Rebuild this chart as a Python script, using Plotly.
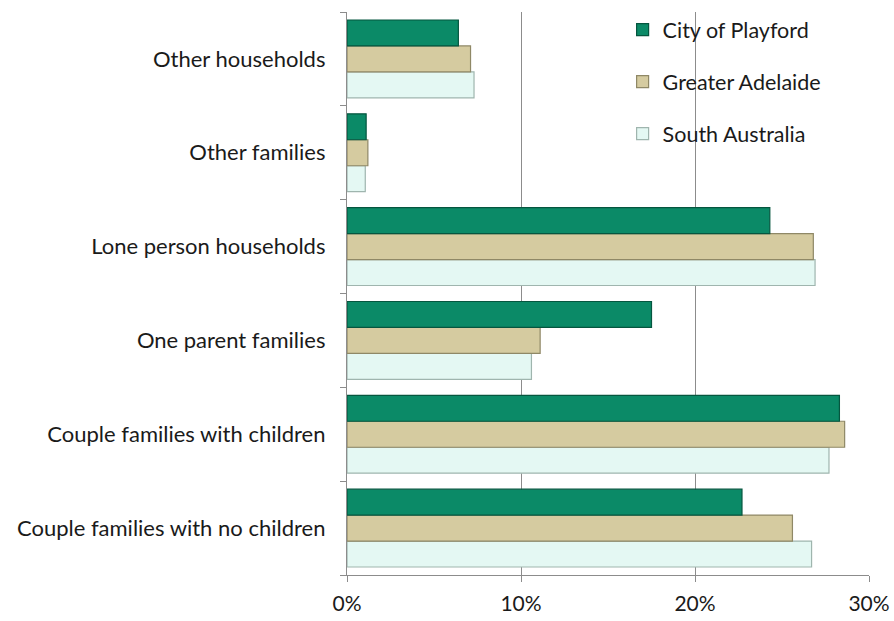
import plotly.graph_objects as go

categories = [
    "Couple families with no children",
    "Couple families with children",
    "One parent families",
    "Lone person households",
    "Other families",
    "Other households",
]
playford = [22.7, 28.3, 17.5, 24.3, 1.1, 6.4]
greater_adelaide = [25.6, 28.6, 11.1, 26.8, 1.2, 7.1]
south_australia = [26.7, 27.7, 10.6, 26.9, 1.05, 7.3]

x_ticks = [0, 10, 20, 30]
x_tick_labels = ["0%", "10%", "20%", "30%"]

# drawn bottom-to-top within each group; legend rank puts Playford first
series = [
    ("South Australia", south_australia, "#e4f8f3", "#9fb5ae", 3),
    ("Greater Adelaide", greater_adelaide, "#d5cba0", "#8f8866", 2),
    ("City of Playford", playford, "#0b8a67", "#05563f", 1),
]

fig = go.Figure()
for name, vals, fill, edge, rank in series:
    fig.add_trace(go.Bar(
        y=categories, x=vals, name=name, orientation="h",
        marker=dict(color=fill, line=dict(color=edge, width=1.2)),
        legendgroup=name, legendrank=rank,
    ))

font = "Lato, 'Open Sans', sans-serif"
fig.update_layout(
    width=894, height=621,
    margin=dict(l=347, r=25, t=12, b=46, autoexpand=False),
    paper_bgcolor="white", plot_bgcolor="white",
    barmode="group", bargap=0.17, bargroupgap=0.0,
    font=dict(family=font, size=21, color="#1a1a1a"),
    legend=dict(
        x=0.528, y=1.005, xanchor="left", yanchor="top",
        traceorder="grouped", tracegroupgap=21,
        itemwidth=30,
        font=dict(size=21.5), bgcolor="rgba(0,0,0,0)",
    ),
    showlegend=True,
)
fig.update_xaxes(
    range=[0, 30], tickvals=x_ticks, ticktext=x_tick_labels,
    showgrid=True, gridcolor="#8c8c8c", gridwidth=1.3,
    showline=True, linecolor="#8c8c8c", linewidth=1.3,
    ticks="outside", ticklen=6, tickcolor="#8c8c8c",
    ticklabelstandoff=4, automargin=False,
    zeroline=False, tickfont=dict(size=21),
)
fig.update_yaxes(
    categoryorder="array", categoryarray=categories,
    showline=True, linecolor="#8c8c8c", linewidth=1.3,
    ticks="outside", ticklen=6, tickcolor="#8c8c8c", tickson="boundaries",
    ticklabelstandoff=16, tickfont=dict(size=22), automargin=False,
    showgrid=False,
)

fig.write_html("out.html")
